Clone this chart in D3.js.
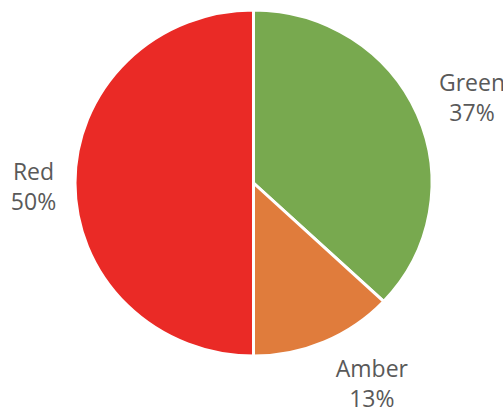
<!DOCTYPE html>
<html>
<head>
<meta charset="utf-8">
<script src="https://cdn.jsdelivr.net/npm/d3@7"></script>
<style>
  html, body { margin: 0; padding: 0; background: #fff; }
  svg { display: block; }
</style>
</head>
<body>
<div id="chart"></div>
<script>
const categories = ['Green', 'Amber', 'Red'];
const values = [37, 13, 50];
const labels = ['37%', '13%', '50%'];
const colours = ['#78a94f', '#e07c3c', '#ea2a26'];

const width = 503;
const height = 411;
const cx = 253.5;
const cy = 183;
const rx = 178.5;
const ry = 173;

const svg = d3.select('#chart')
  .append('svg')
  .attr('width', width)
  .attr('height', height);

const data = categories.map((c, i) => ({ name: c, value: values[i], label: labels[i], colour: colours[i] }));

const pie = d3.pie()
  .sort(null)
  .value((d) => d.value);

const arc = d3.arc()
  .innerRadius(0)
  .outerRadius(rx);

// pie is slightly squashed vertically in the reference
const g = svg.append('g')
  .attr('transform', `translate(${cx},${cy}) scale(1,${ry / rx})`);

g.selectAll('path')
  .data(pie(data))
  .enter()
  .append('path')
  .attr('d', arc)
  .attr('fill', (d) => d.data.colour)
  .attr('stroke', '#fff')
  .attr('stroke-width', 3)
  .attr('stroke-linejoin', 'miter');

// labels outside the pie
const labelArc = d3.arc()
  .innerRadius(225)
  .outerRadius(225);

// small nudges so labels sit where the reference puts them
const nudge = { Green: [12, 0], Amber: [29, -10], Red: [5, -1] };

const labelG = svg.append('g')
  .attr('transform', `translate(${cx},${cy})`);

const lab = labelG.selectAll('text')
  .data(pie(data))
  .enter()
  .append('text')
  .attr('transform', (d) => {
    const [x, y] = labelArc.centroid(d);
    const n = nudge[d.data.name];
    return `translate(${x + n[0]},${y + n[1]})`;
  })
  .attr('text-anchor', 'middle')
  .style('font-family', '"Open Sans", sans-serif')
  .style('font-size', '23px')
  .style('fill', '#595959');

lab.append('tspan')
  .attr('x', 0)
  .attr('dy', '-0.1em')
  .text((d) => d.data.name);

lab.append('tspan')
  .attr('x', 0)
  .attr('dy', '1.3em')
  .text((d) => d.data.label);
</script>
</body>
</html>
